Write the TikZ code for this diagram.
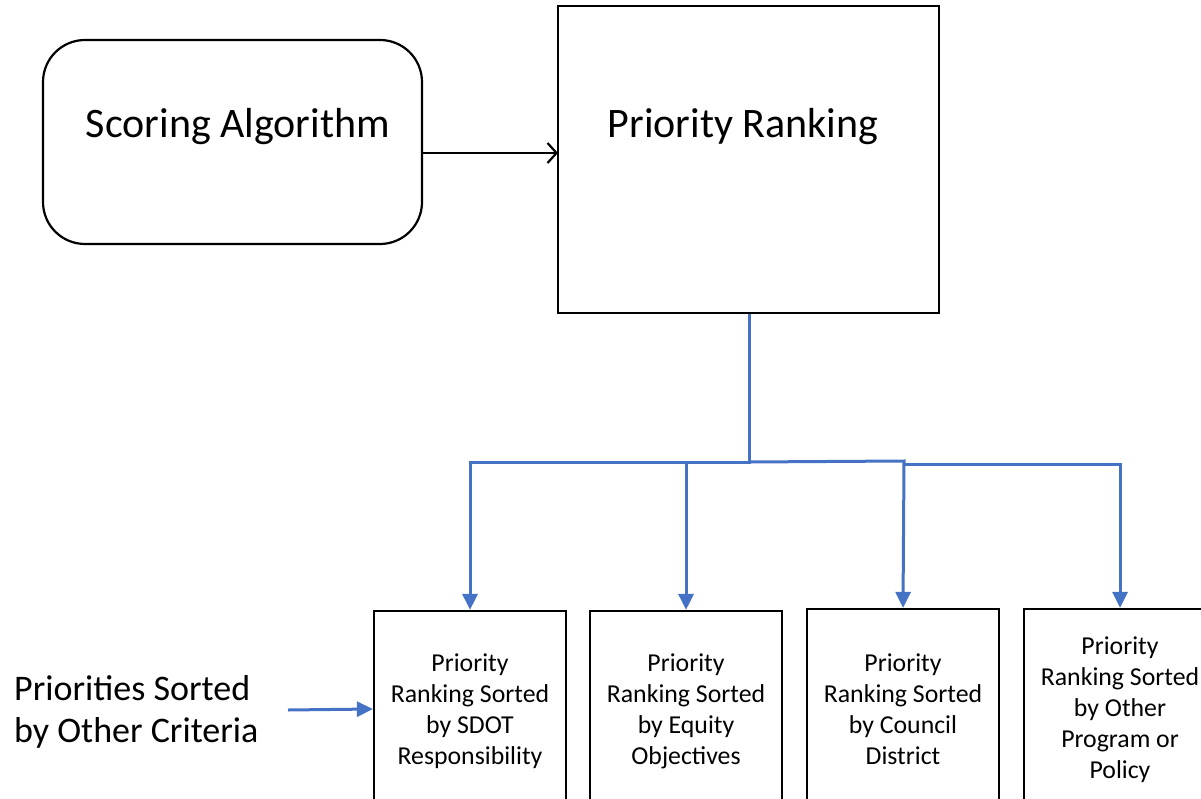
\documentclass[tikz,border=0pt]{standalone}
\usepackage{fontspec}
\setmainfont{Carlito}
\usetikzlibrary{arrows.meta}
\definecolor{linkblue}{HTML}{4472C4}
\tikzset{
  rbox/.style={draw=black, line width=2.2pt, rounded corners=42pt, inner sep=0pt},
  sbox/.style={draw=black, line width=2.2pt, inner sep=0pt},
  bigtext/.style={font=\fontsize{42}{48}\selectfont, inner sep=0pt},
  smalltext/.style={font=\fontsize{25.8}{31}\selectfont, align=center, inner sep=0pt},
  sidetext/.style={font=\fontsize{36}{42}\selectfont, align=left, inner sep=0pt},
  blackarrow/.style={draw=black, line width=2.2pt, -{Straight Barb[length=9pt,width=20pt,line width=2.2pt]}},
  bluearrow/.style={draw=linkblue, line width=3pt, -{Triangle[length=16pt,width=15pt]}},
}
\begin{document}
\begin{tikzpicture}[x=1pt,y=-1pt]
\useasboundingbox (0,0) rectangle (1201,799);
\clip (0,0) rectangle (1201,799);
% top boxes
\node[rbox, minimum width=379pt, minimum height=204pt] (score) at (232.5,142) {};
\node[bigtext] (scoretext) at (238,127) {Scoring Algorithm};
\node[sbox, minimum width=381pt, minimum height=307pt] (rank) at (748.5,159.5) {};
\node[bigtext] (ranktext) at (743,127) {Priority Ranking};
\coordinate (arrowstart) at (422,153);
\coordinate (arrowend) at (558,153);
\draw[blackarrow] (arrowstart) -- (arrowend);
% bottom boxes
\node[sbox, minimum width=192pt, minimum height=196pt] (b1) at (470,709) {};
\node[sbox, minimum width=192pt, minimum height=196pt] (b2) at (686,709) {};
\node[sbox, minimum width=192pt, minimum height=196pt] (b3) at (903,707) {};
\node[sbox, minimum width=192pt, minimum height=196pt] (b4) at (1120,707) {};
\node[smalltext] (t1) at (470,711) {Priority\\Ranking Sorted\\by SDOT\\Responsibility};
\node[smalltext] (t2) at (686,711) {Priority\\Ranking Sorted\\by Equity\\Objectives};
\node[smalltext] (t3) at (903,709) {Priority\\Ranking Sorted\\by Council\\District};
\node[smalltext] (t4) at (1120,710) {Priority\\Ranking Sorted\\by Other\\Program or\\Policy};
% blue tree
\coordinate (trunk) at (749,462);
\coordinate (j3) at (904,461);
\coordinate (j4) at (904,464);
\draw[bluearrow] (rank.south -| trunk) -- (trunk) -| (b1.north);
\draw[bluearrow] (trunk -| b2.north) -- (b2.north);
\draw[bluearrow] (trunk) -- (j3) -- (b3.north);
\draw[bluearrow] (j4) -| (b4.north);
% side label
\node[sidetext, anchor=west] (side) at (14,712) {Priorities Sorted\\by Other Criteria};
\coordinate (sidestart) at (288,710);
\draw[bluearrow] (sidestart) -- (b1.west);
\end{tikzpicture}
\end{document}
